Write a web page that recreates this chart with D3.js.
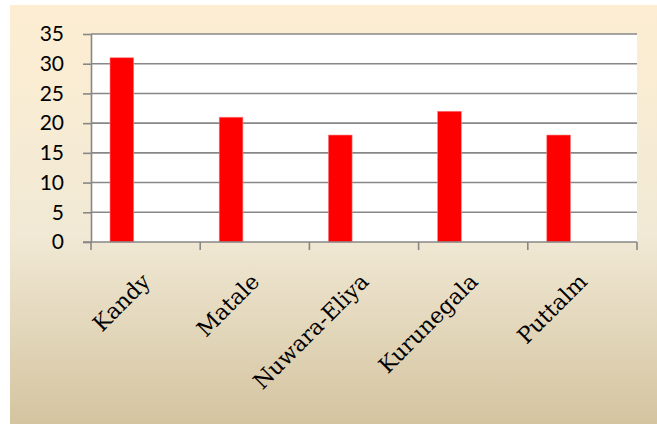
<!DOCTYPE html>
<html>
<head>
<meta charset="utf-8">
<script src="https://cdn.jsdelivr.net/npm/d3@7"></script>
<style>
  html, body { margin: 0; padding: 0; background: #fff; }
  svg { display: block; }
</style>
</head>
<body>
<div id="chart"></div>
<script>
const categories = ["Kandy", "Matale", "Nuwara-Eliya", "Kurunegala", "Puttalm"];
const values = [31, 21, 18, 22, 18];
const yTicks = [0, 5, 10, 15, 20, 25, 30, 35];

const width = 657, height = 424;
const plot = { left: 91, right: 637, top: 34, bottom: 242 };

const svg = d3.select("#chart").append("svg")
    .attr("width", width)
    .attr("height", height);

// parchment style background
const grad = svg.append("defs").append("linearGradient")
    .attr("id", "bg")
    .attr("x1", 0).attr("y1", 0).attr("x2", 0).attr("y2", 1);
grad.append("stop").attr("offset", "0%").attr("stop-color", "#fdeed2");
grad.append("stop").attr("offset", "55%").attr("stop-color", "#f1e9d5");
grad.append("stop").attr("offset", "100%").attr("stop-color", "#d4c4a0");

svg.append("rect")
    .attr("x", 10).attr("y", 5)
    .attr("width", width - 10).attr("height", height - 5)
    .attr("fill", "url(#bg)");

const x = d3.scaleBand()
    .domain(categories)
    .range([plot.left, plot.right])
    .padding(0);

const y = d3.scaleLinear()
    .domain([0, 35])
    .range([plot.bottom, plot.top]);

svg.append("rect")
    .attr("x", plot.left).attr("y", plot.top)
    .attr("width", plot.right - plot.left)
    .attr("height", plot.bottom - plot.top)
    .attr("fill", "#fff");

// horizontal gridlines
svg.append("g")
    .selectAll("line")
    .data(yTicks.filter(d => d > 0))
    .join("line")
    .attr("x1", plot.left).attr("x2", plot.right)
    .attr("y1", d => y(d)).attr("y2", d => y(d))
    .attr("stroke", "#878787")
    .attr("stroke-width", 1.6);

// bars (first slot of the cluster)
const bw = x.bandwidth();
svg.append("g")
    .selectAll("rect")
    .data(categories)
    .join("rect")
    .attr("x", (d, i) => x(d) + bw * 0.174)
    .attr("y", (d, i) => y(values[i]))
    .attr("width", bw * 0.217)
    .attr("height", (d, i) => y(0) - y(values[i]))
    .attr("fill", "#ff0000")
    .attr("stroke", "#ff8080")
    .attr("stroke-width", 0.6);

// y axis
svg.append("g")
    .attr("transform", `translate(${plot.left},0)`)
    .call(d3.axisLeft(y).tickValues(yTicks).tickSize(8).tickPadding(19).tickSizeOuter(0))
    .call(g => g.selectAll("line, path").attr("stroke", "#878787").attr("stroke-width", 1.6))
    .call(g => g.selectAll("text")
        .attr("fill", "#000")
        .style("font-family", "Lato, 'Open Sans', sans-serif")
        .style("font-size", "21px"));

// x axis line and boundary ticks
const bounds = categories.map(d => x(d)).concat([plot.right]);
const xg = svg.append("g");
xg.append("line")
    .attr("x1", plot.left - 8).attr("x2", plot.right)
    .attr("y1", y(0)).attr("y2", y(0))
    .attr("stroke", "#878787").attr("stroke-width", 1.6);
xg.selectAll("line.tick")
    .data(bounds)
    .join("line")
    .attr("class", "tick")
    .attr("x1", d => d).attr("x2", d => d)
    .attr("y1", y(0)).attr("y2", y(0) + 8)
    .attr("stroke", "#878787").attr("stroke-width", 1.6);

// rotated category labels
xg.selectAll("text")
    .data(categories)
    .join("text")
    .attr("transform", d => `translate(${x(d) + bw / 2 + 6},${y(0) + 41}) rotate(-45)`)
    .attr("text-anchor", "end")
    .attr("fill", "#000")
    .style("font-family", "'DejaVu Serif', serif")
    .style("font-size", "22px")
    .text(d => d);
</script>
</body>
</html>
